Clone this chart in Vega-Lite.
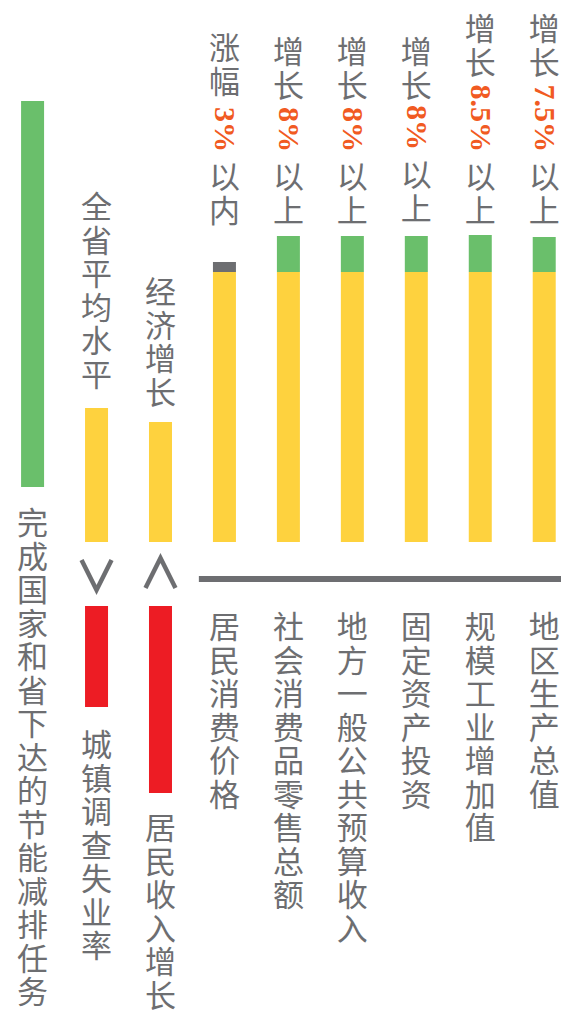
{
  "$schema": "https://vega.github.io/schema/vega-lite/v6.json",
  "width": 561,
  "height": 1014,
  "autosize": "none",
  "padding": 0,
  "background": "#ffffff",
  "config": {"view": {"stroke": null}},
  "datasets": {
    "bars": [
      {"col": "完成国家和省下达的节能减排任务", "kind": "超出", "lo": 55, "hi": 441},
      {"col": "城镇调查失业率", "kind": "基础", "lo": 0, "hi": 134},
      {"col": "城镇调查失业率", "kind": "对比", "lo": -64, "hi": -165},
      {"col": "居民收入增长", "kind": "基础", "lo": 0, "hi": 120},
      {"col": "居民收入增长", "kind": "对比", "lo": -64, "hi": -251},
      {"col": "居民消费价格", "kind": "基础", "lo": 0, "hi": 270},
      {"col": "居民消费价格", "kind": "控制", "lo": 270, "hi": 280},
      {"col": "社会消费品零售总额", "kind": "基础", "lo": 0, "hi": 270},
      {"col": "社会消费品零售总额", "kind": "超出", "lo": 270, "hi": 306},
      {"col": "地方一般公共预算收入", "kind": "基础", "lo": 0, "hi": 270},
      {"col": "地方一般公共预算收入", "kind": "超出", "lo": 270, "hi": 306},
      {"col": "固定资产投资", "kind": "基础", "lo": 0, "hi": 270},
      {"col": "固定资产投资", "kind": "超出", "lo": 270, "hi": 306},
      {"col": "规模工业增加值", "kind": "基础", "lo": 0, "hi": 270},
      {"col": "规模工业增加值", "kind": "超出", "lo": 270, "hi": 307},
      {"col": "地区生产总值", "kind": "基础", "lo": 0, "hi": 270},
      {"col": "地区生产总值", "kind": "超出", "lo": 270, "hi": 305}
    ],
    "baseline": [
      {"col": "居民消费价格", "col_end": "地区生产总值", "v": -37}
    ],
    "relations": [
      {"col": "城镇调查失业率", "rel": "低于", "v": -33},
      {"col": "居民收入增长", "rel": "高于", "v": -31}
    ],
    "labels": [
      {"col": "完成国家和省下达的节能减排任务", "txt": "完\n成\n国\n家\n和\n省\n下\n达\n的\n节\n能\n减\n排\n任\n务", "top": 32},
      {"col": "城镇调查失业率", "txt": "全\n省\n平\n均\n水\n平", "top": 348},
      {"col": "城镇调查失业率", "txt": "城\n镇\n调\n查\n失\n业\n率", "top": -190},
      {"col": "居民收入增长", "txt": "经\n济\n增\n长", "top": 263},
      {"col": "居民收入增长", "txt": "居\n民\n收\n入\n增\n长", "top": -273},
      {"col": "居民消费价格", "txt": "涨\n幅", "top": 507},
      {"col": "居民消费价格", "txt": "以\n内", "top": 378},
      {"col": "居民消费价格", "txt": "居\n民\n消\n费\n价\n格", "top": -72},
      {"col": "社会消费品零售总额", "txt": "增\n长", "top": 503},
      {"col": "社会消费品零售总额", "txt": "以\n上", "top": 378},
      {"col": "社会消费品零售总额", "txt": "社\n会\n消\n费\n品\n零\n售\n总\n额", "top": -72},
      {"col": "地方一般公共预算收入", "txt": "增\n长", "top": 503},
      {"col": "地方一般公共预算收入", "txt": "以\n上", "top": 378},
      {"col": "地方一般公共预算收入", "txt": "地\n方\n一\n般\n公\n共\n预\n算\n收\n入", "top": -72},
      {"col": "固定资产投资", "txt": "增\n长", "top": 503},
      {"col": "固定资产投资", "txt": "以\n上", "top": 380},
      {"col": "固定资产投资", "txt": "固\n定\n资\n产\n投\n资", "top": -72},
      {"col": "规模工业增加值", "txt": "增\n长", "top": 526},
      {"col": "规模工业增加值", "txt": "以\n上", "top": 378},
      {"col": "规模工业增加值", "txt": "规\n模\n工\n业\n增\n加\n值", "top": -72},
      {"col": "地区生产总值", "txt": "增\n长", "top": 526},
      {"col": "地区生产总值", "txt": "以\n上", "top": 378},
      {"col": "地区生产总值", "txt": "地\n区\n生\n产\n总\n值", "top": -72}
    ],
    "targets": [
      {"col": "居民消费价格", "num": "3%", "end": 390},
      {"col": "社会消费品零售总额", "num": "8%", "end": 390},
      {"col": "地方一般公共预算收入", "num": "8%", "end": 390},
      {"col": "固定资产投资", "num": "8%", "end": 392},
      {"col": "规模工业增加值", "num": "8.5%", "end": 390},
      {"col": "地区生产总值", "num": "7.5%", "end": 390}
    ]
  },
  "encoding": {
    "x": {
      "field": "col",
      "type": "nominal",
      "axis": null,
      "scale": {
        "type": "band",
        "domain": ["完成国家和省下达的节能减排任务", "城镇调查失业率", "居民收入增长", "居民消费价格", "社会消费品零售总额", "地方一般公共预算收入", "固定资产投资", "规模工业增加值", "地区生产总值"],
        "range": [0.6, 576.2],
        "paddingInner": 0,
        "paddingOuter": 0
      }
    }
  },
  "layer": [
    {
      "data": {"name": "bars"},
      "mark": {"type": "bar", "size": 23},
      "encoding": {
        "y": {"field": "hi", "type": "quantitative", "axis": null, "scale": {"domain": [-472, 542], "nice": false, "zero": false}},
        "y2": {"field": "lo"},
        "color": {
          "field": "kind",
          "type": "nominal",
          "legend": null,
          "scale": {"domain": ["基础", "超出", "控制", "对比"], "range": ["#fed23e", "#6abf6b", "#6d6e71", "#ed1c24"]}
        }
      }
    },
    {
      "data": {"name": "baseline"},
      "mark": {"type": "rule", "strokeWidth": 6, "color": "#6d6e71"},
      "encoding": {
        "x": {"field": "col", "type": "nominal", "bandPosition": 0.1},
        "x2": {"field": "col_end", "bandPosition": 1},
        "y": {"field": "v", "type": "quantitative", "axis": null, "scale": {"domain": [-472, 542], "nice": false, "zero": false}}
      }
    },
    {
      "data": {"name": "relations"},
      "mark": {"type": "point", "filled": false, "size": 900, "strokeWidth": 4.5, "opacity": 1, "color": "#6d6e71"},
      "encoding": {
        "y": {"field": "v", "type": "quantitative", "axis": null, "scale": {"domain": [-472, 542], "nice": false, "zero": false}},
        "shape": {
          "field": "rel",
          "type": "nominal",
          "legend": null,
          "scale": {"domain": ["低于", "高于"], "range": ["M-1,-1L0,1L1,-1", "M-1,1L0,-1L1,1"]}
        }
      }
    },
    {
      "data": {"name": "labels"},
      "mark": {"type": "text", "font": "Noto Sans CJK SC", "fontSize": 31, "lineHeight": 33.5, "lineBreak": "\n", "baseline": "top", "align": "center", "color": "#6d6e71"},
      "encoding": {
        "y": {"field": "top", "type": "quantitative", "axis": null, "scale": {"domain": [-472, 542], "nice": false, "zero": false}},
        "text": {"field": "txt"}
      }
    },
    {
      "data": {"name": "targets"},
      "mark": {"type": "text", "font": "Liberation Serif", "fontWeight": "bold", "fontSize": 30, "angle": 90, "baseline": "middle", "align": "right", "color": "#f15a22"},
      "encoding": {
        "y": {"field": "end", "type": "quantitative", "axis": null, "scale": {"domain": [-472, 542], "nice": false, "zero": false}},
        "text": {"field": "num"}
      }
    }
  ]
}
